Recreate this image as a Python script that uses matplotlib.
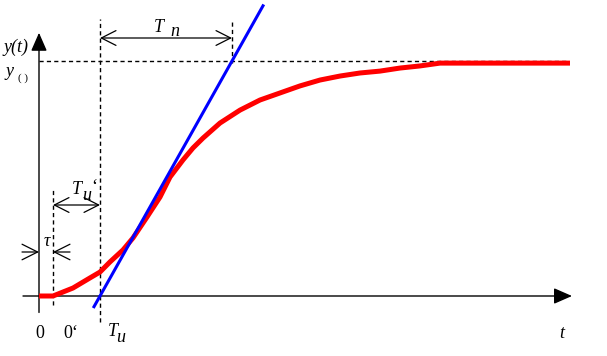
import numpy as np
import matplotlib.pyplot as plt

# step response (t in s, y normalised to y(inf))
t = [0, 0.14, 0.34, 0.51, 0.61, 0.71, 0.84, 0.94, 1.08, 1.21, 1.31, 1.44, 1.54, 1.64,
     1.81, 2.01, 2.21, 2.41, 2.61, 2.81, 3.01, 3.21, 3.41, 3.61, 3.81, 4.01, 4.41, 5.31]
y = [0, 0, 0.034, 0.077, 0.102, 0.145, 0.196, 0.247, 0.336, 0.421, 0.506, 0.579, 0.630,
     0.672, 0.736, 0.791, 0.834, 0.864, 0.894, 0.919, 0.936, 0.949, 0.957, 0.970, 0.979,
     0.991, 0.991, 0.991]

tau = 0.14   # dead time 0'
Tu = 0.61    # delay time
Tn = 1.32    # rise (compensation) time
y_inf = 1.0
t_tangent = np.array([0.55, 2.24])
y_tangent = (t_tangent - Tu) / Tn * y_inf


def P(px, py):
    # pixel position -> data coords (only used for label placement)
    return (px - 39) / 100, (296 - py) / 235


fig = plt.figure(figsize=(6.07, 3.56), dpi=100)
ax = fig.add_axes([0, 0, 1, 1])
ax.set_xlim(-0.39, 5.68)
ax.set_ylim(-60 / 235, 296 / 235)
ax.axis('off')

# axes with filled arrow heads
axis_arrow = dict(arrowstyle='-|>,head_length=0.8,head_width=0.35', mutation_scale=14,
                  lw=1.0, color='black', shrinkA=0, shrinkB=0)
ax.annotate('', xy=(5.33, 0), xytext=(-0.16, 0), arrowprops=axis_arrow)
ax.annotate('', xy=(0, 1.12), xytext=(0, -0.07), arrowprops=axis_arrow)

# dashed helper lines
dash = dict(color='black', lw=1.0, dashes=(3, 2.3))
ax.plot([0, 5.28], [y_inf, y_inf], **dash)
ax.plot([tau, tau], [-0.038, 0.453], **dash)
ax.plot([Tu, Tu], [-0.11, 1.18], **dash)
ax.plot([Tu + Tn, Tu + Tn], [0.99, 1.18], **dash)

# curves
ax.plot(t, y, color='#ff0000', lw=3.6, solid_capstyle='butt', solid_joinstyle='round', zorder=3)
ax.plot(t_tangent, y_tangent, color='#0000ff', lw=2.2, zorder=4)

# dimension arrows
dim = dict(arrowstyle='<->,head_length=0.75,head_width=0.38', mutation_scale=14,
           lw=0.9, color='black', shrinkA=0, shrinkB=0)
y_tn = P(0, 38)[1]
ax.annotate('', xy=(Tu + Tn, y_tn), xytext=(Tu, y_tn), arrowprops=dim)
y_tu = P(0, 205)[1]
ax.annotate('', xy=(Tu, y_tu), xytext=(tau, y_tu), arrowprops=dim)

one = dict(arrowstyle='->,head_length=0.8,head_width=0.4', mutation_scale=14,
           lw=0.9, color='black', shrinkA=0, shrinkB=0)
y_tau = P(0, 252)[1]
ax.annotate('', xy=(0, y_tau), xytext=(P(22, 0)[0], y_tau), arrowprops=one)
ax.annotate('', xy=(tau, y_tau), xytext=(P(70, 0)[0], y_tau), arrowprops=one)

# labels
it = dict(family='Liberation Serif', style='italic', size=13, ha='center', va='center')
rm = dict(family='Liberation Serif', size=13, ha='center', va='center')
ax.text(*P(16, 47), 'y(t)', **it)
ax.text(*P(9, 72), 'y', **it)
ax.text(*P(23, 78), '( )', family='Liberation Serif', size=8, ha='center', va='center')
ax.text(*P(159, 28), 'T', **it)
ax.text(*P(175, 31), 'n', **it)
ax.text(*P(77, 190), 'T', **it)
ax.text(*P(87, 195), 'u', **it)
ax.text(*P(94, 187), '‘', **rm)
ax.text(*P(47, 242), 'τ', **it)
ax.text(*P(40, 333), '0', **rm)
ax.text(*P(71, 333), '0‘', **rm)
ax.text(*P(113, 332), 'T', **it)
ax.text(*P(121, 338), 'u', **it)
ax.text(*P(562, 333), 't', **it)

fig.savefig('out.png', dpi=100)
